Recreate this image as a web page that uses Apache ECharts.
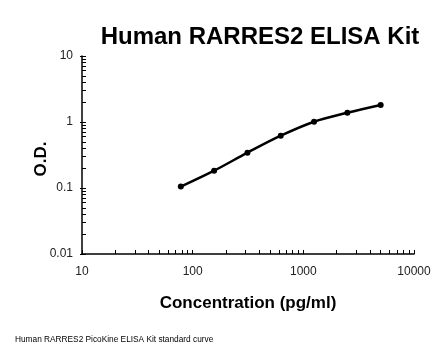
<!DOCTYPE html>
<html><head><meta charset="utf-8">
<script src="https://cdn.jsdelivr.net/npm/echarts@6/dist/echarts.min.js"></script>
<style>html,body{margin:0;padding:0;background:#fff;}#c{width:446px;height:356px;}</style>
</head><body><div id="c"></div>
<script>
var concentrations = [78.125, 156.25, 312.5, 625, 1250, 2500, 5000];
var odValues = [0.105, 0.183, 0.343, 0.62, 1.01, 1.38, 1.81];
var xTickLabels = [10, 100, 1000, 10000];
var yTickLabels = [0.01, 0.1, 1, 10];

function decadeTicks(lo, hi) {
  var out = [];
  for (var d = lo; d < hi * 0.999; d *= 10) {
    for (var k = 1; k <= 9; k++) out.push(+(d * k).toPrecision(3));
  }
  out.push(hi);
  return out;
}
var xMinor = decadeTicks(10, 10000);
var yMinor = decadeTicks(0.01, 10);

var font = 'Liberation Sans, Arial, sans-serif';
var chart = echarts.init(document.getElementById('c'), null, {renderer: 'canvas'});
chart.setOption({
  animation: false,
  backgroundColor: '#fff',
  title: {
    text: 'Human RARRES2 ELISA Kit',
    left: 255, top: 20, textAlign: 'center',
    textStyle: {fontFamily: font, fontWeight: 'bold', fontSize: 24, color: '#000'}
  },
  grid: {left: 82, right: 32, top: 56, bottom: 102, containLabel: false},
  xAxis: [{
    type: 'log', logBase: 10, min: 10, max: 10000,
    name: 'Concentration (pg/ml)', nameLocation: 'middle', nameGap: 41,
    nameTextStyle: {fontFamily: font, fontWeight: 'bold', fontSize: 17, color: '#000'},
    axisLine: {lineStyle: {color: '#000', width: 1.5}},
    axisTick: {show: true, inside: true, length: 4, customValues: xMinor, lineStyle: {color: '#000'}},
    axisLabel: {customValues: xTickLabels, margin: 12, fontFamily: font, fontSize: 12, color: '#222',
      formatter: function (v) { return String(v); }},
    splitLine: {show: false}
  }],
  yAxis: [{
    type: 'log', logBase: 10, min: 0.01, max: 10,
    name: 'O.D.', nameLocation: 'middle', nameGap: 32, nameMoveOverlap: false,
    nameTextStyle: {fontFamily: font, fontWeight: 'bold', fontSize: 17, color: '#000', padding: [0, 8, 0, 0]},
    axisLine: {lineStyle: {color: '#000', width: 1.5}},
    axisTick: {show: true, inside: true, length: 4, customValues: yMinor, lineStyle: {color: '#000'}},
    axisLabel: {customValues: yTickLabels, margin: 9, fontFamily: font, fontSize: 12, color: '#222',
      formatter: function (v) { return String(+v.toPrecision(3)); }},
    splitLine: {show: false}
  }, {
    type: 'log', logBase: 10, min: 0.01, max: 10, position: 'left',
    axisLine: {show: false},
    axisTick: {show: true, inside: false, length: 2, customValues: yTickLabels, lineStyle: {color: '#000'}},
    axisLabel: {show: false}, splitLine: {show: false}
  }],
  series: [{
    type: 'line',
    data: concentrations.map(function (c, i) { return [c, odValues[i]]; }),
    smooth: 0.35,
    symbol: 'circle', symbolSize: 6,
    lineStyle: {color: '#000', width: 2.5},
    itemStyle: {color: '#000'}
  }],
  graphic: [{
    type: 'text', left: 15, top: 336,
    style: {text: 'Human RARRES2 PicoKine ELISA Kit standard curve', fontFamily: font, fontSize: 8.3, fill: '#000'}
  }]
});
</script></body></html>
